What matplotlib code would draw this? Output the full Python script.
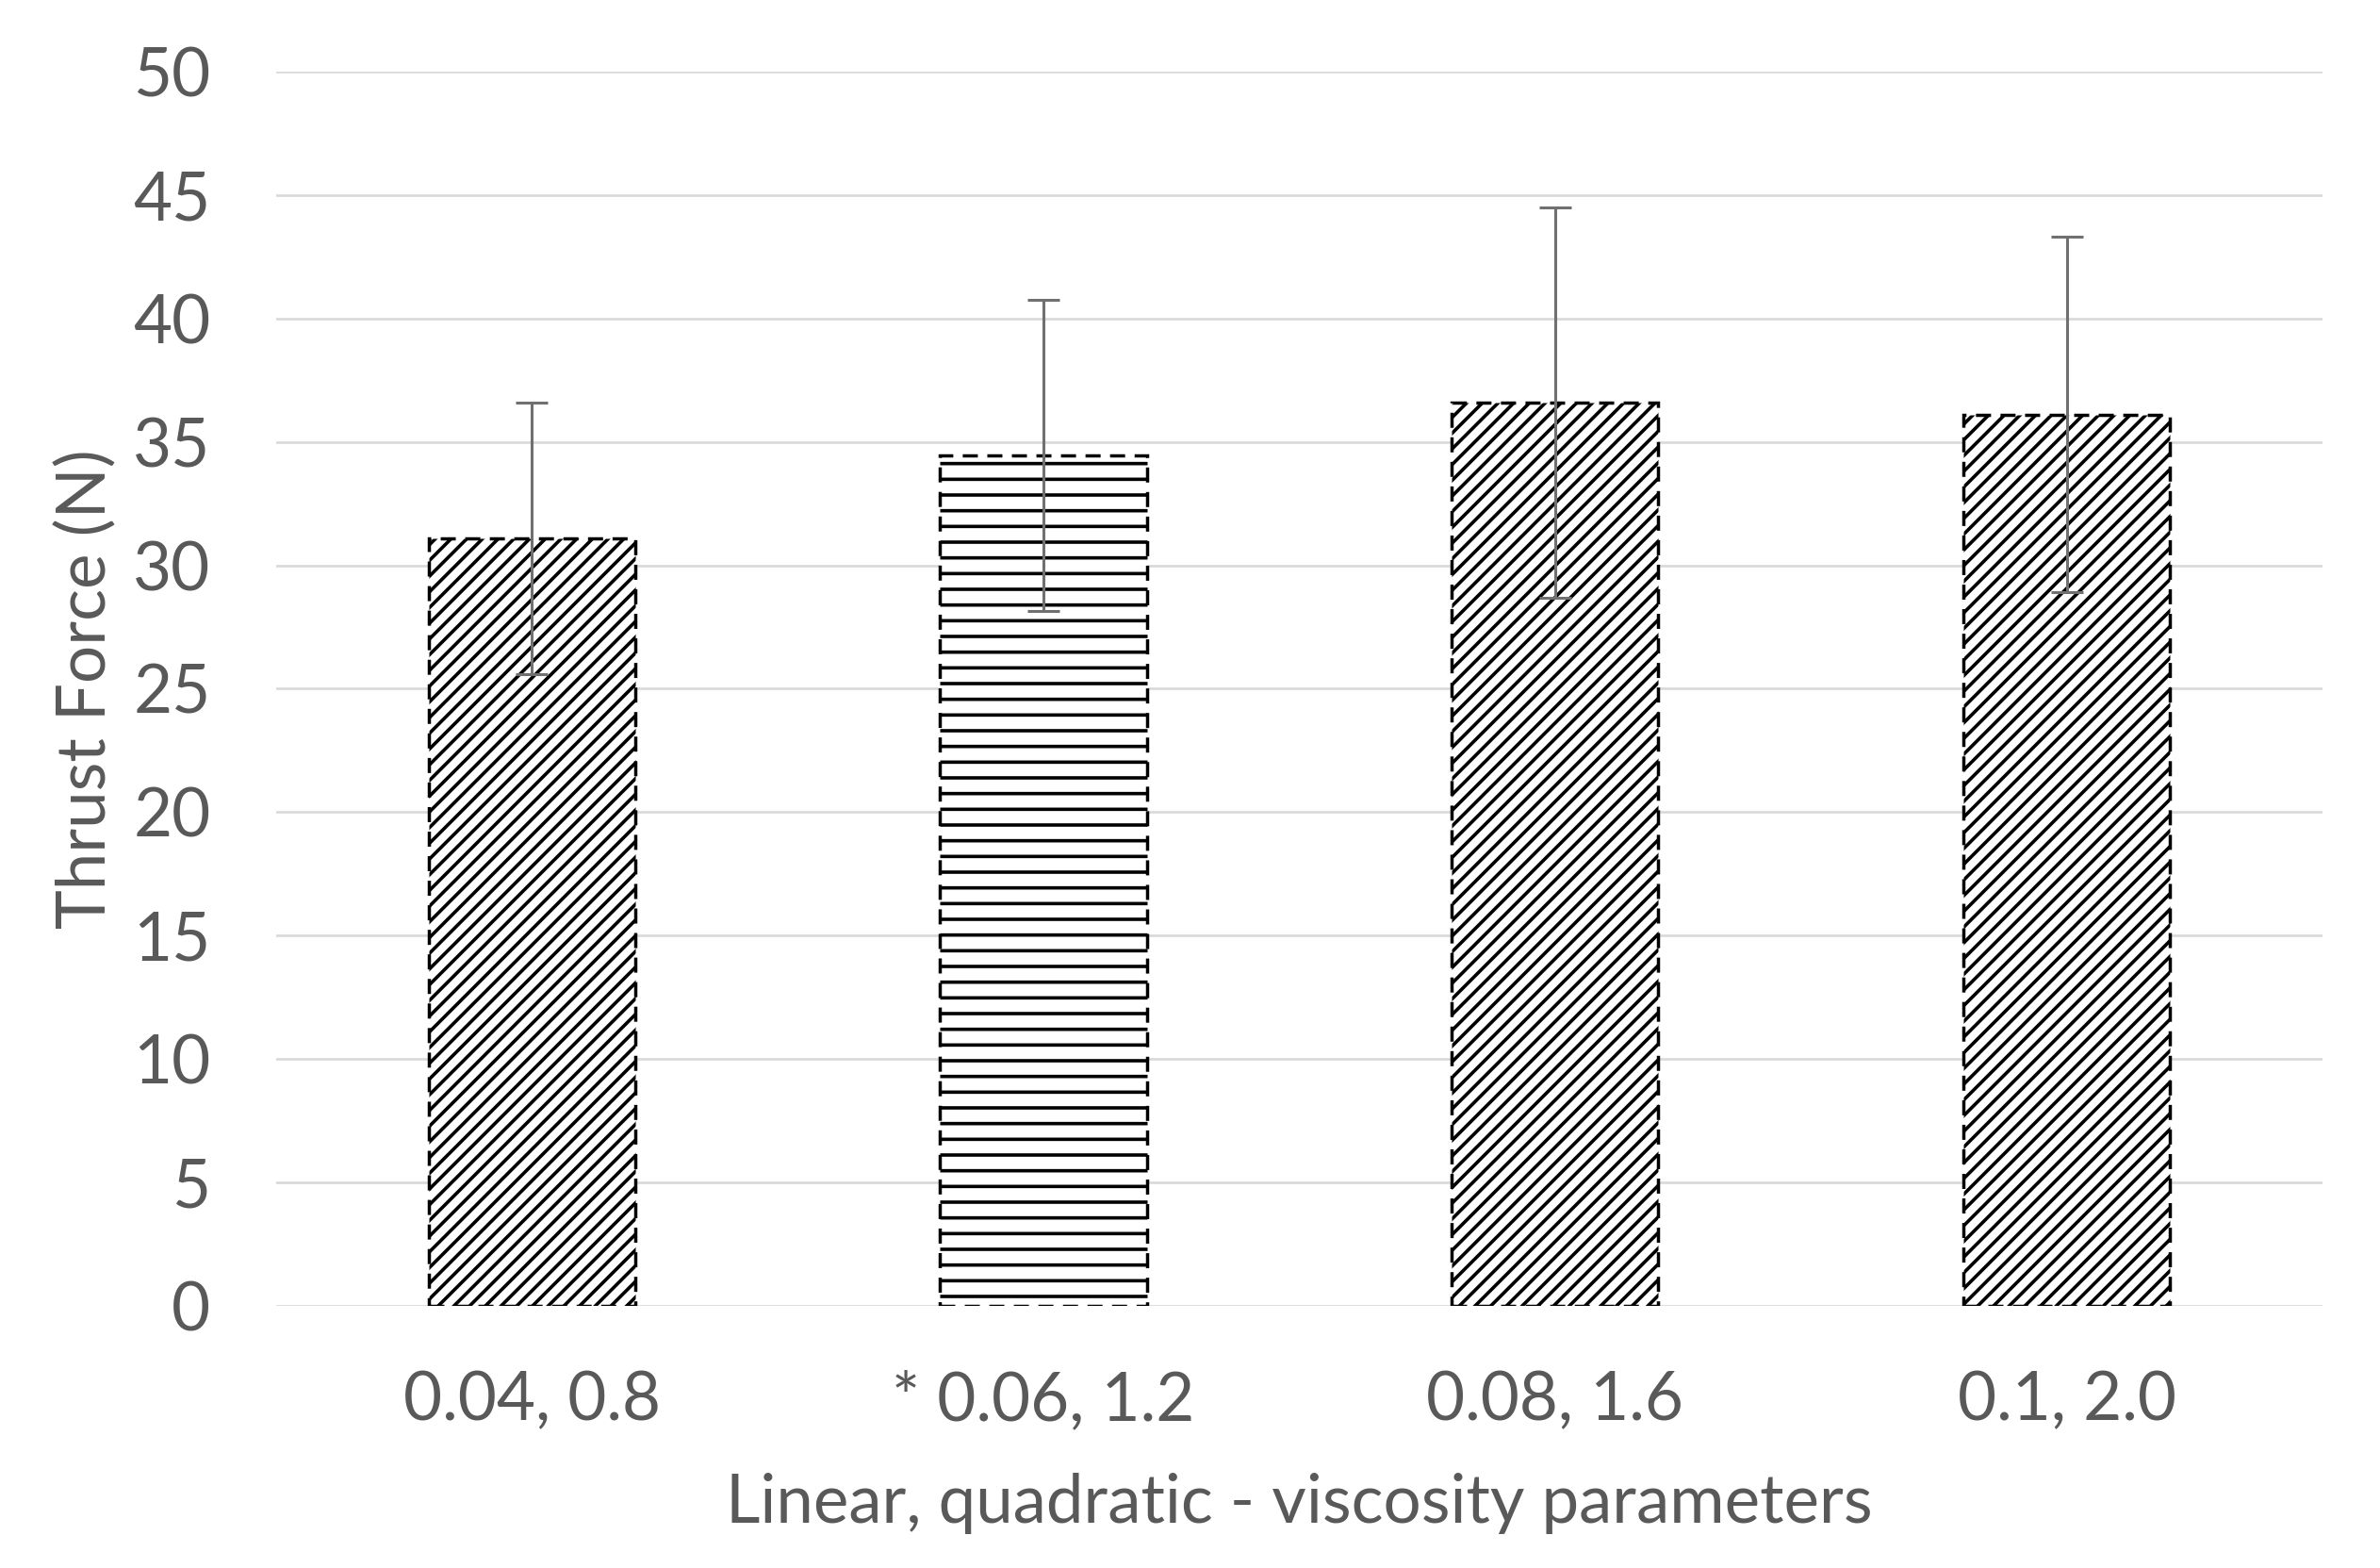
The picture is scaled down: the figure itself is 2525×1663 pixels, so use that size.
import matplotlib
matplotlib.use("Agg")
import matplotlib.pyplot as plt
import numpy as np

# values
categories = ["0.04, 0.8", "* 0.06, 1.2", "0.08, 1.6", "0.1, 2.0"]
thrust = [31.1, 34.45, 36.6, 36.1]
thrust_err = [5.5, 6.3, 7.9, 7.2]
hatches = ["//", "-", "//", "//"]
yticks = [0, 5, 10, 15, 20, 25, 30, 35, 40, 45, 50]

text_color = "#595959"
plt.rcParams["font.family"] = ["Lato", "DejaVu Sans"]
plt.rcParams["hatch.linewidth"] = 2.6
plt.rcParams["hatch.color"] = "black"

fig = plt.figure(figsize=(25.25, 16.63), dpi=100)
ax = fig.add_axes([0.116, 0.1672, 0.8598, 0.7871])

x = np.arange(len(categories))
for i in range(len(categories)):
    ax.bar(x[i], thrust[i], width=0.404, color="white", edgecolor="black",
           hatch=hatches[i], linewidth=2.5, linestyle=(0, (4.6, 2.9)), zorder=2)

ax.errorbar(x, thrust, yerr=thrust_err, fmt="none", ecolor="#707070",
            elinewidth=2.2, capsize=12, capthick=2.2, zorder=3)

ax.set_xlim(-0.5, len(categories) - 0.5)
ax.set_ylim(0, 50)
ax.set_yticks(yticks)
ax.set_xticks(x)
ax.set_xticklabels(categories)
ax.yaxis.grid(True, color="#d9d9d9", linewidth=1.9, zorder=0)
ax.set_axisbelow(True)
for s in ax.spines.values():
    s.set_visible(False)
ax.tick_params(axis="both", length=0, labelsize=51, labelcolor=text_color)
ax.tick_params(axis="y", pad=50)
ax.tick_params(axis="x", pad=49)

ax.set_xlabel("Linear, quadratic - viscosity parameters", fontsize=51,
              color=text_color, labelpad=32)
ax.set_ylabel("Thrust Force (N)", fontsize=51, color=text_color, labelpad=12)

fig.savefig("out.png", dpi=100)
